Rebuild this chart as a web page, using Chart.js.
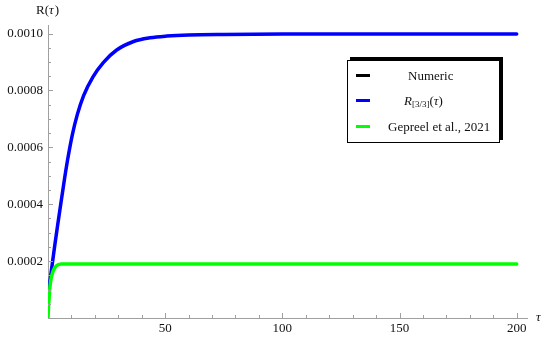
<!DOCTYPE html>
<html>
<head>
<meta charset="utf-8">
<script src="https://cdn.jsdelivr.net/npm/chart.js@4/dist/chart.umd.min.js"></script>
<style>
  html, body { margin: 0; padding: 0; background: #fff; }
  #wrap { position: relative; width: 550px; height: 340px; }
  #legend { position: absolute; left: 347px; top: 60px; width: 151px; height: 81px;
    border: 1px solid #000; background: #fff; box-shadow: 3px -3px 0 #000;
    font-family: "Liberation Serif", "Times New Roman", serif; font-size: 13px; color: #111; }
  .row { position: absolute; left: 0; width: 151px; height: 16px; }
  .sw { position: absolute; left: 8px; top: 6px; width: 14px; height: 3px; }
  .tx { position: absolute; top: 0; line-height: 16px; white-space: nowrap; }
  sub { font-size: 9px; vertical-align: -2px; font-style: normal; }
</style>
</head>
<body>
<div id="wrap">
  <canvas id="c" width="550" height="340"></canvas>
  <div id="legend">
    <div class="row" style="top:7px"><div class="sw" style="background:#000"></div><div class="tx" style="left:60px">Numeric</div></div>
    <div class="row" style="top:32px"><div class="sw" style="background:#0000ff"></div><div class="tx" style="left:56px"><i>R</i><sub>[3/3]</sub>(<i>τ</i>)</div></div>
    <div class="row" style="top:58px"><div class="sw" style="background:#00ff00"></div><div class="tx" style="left:40px">Gepreel et al., 2021</div></div>
  </div>
</div>
<script>
// ---- data ----
const tauPade  = [0, 1, 2, 3, 4, 5.7, 7.1, 8.7, 10.4, 12.5, 15.2, 19.2, 23.6, 29.3, 36.5, 43.6, 50.7, 60, 75, 100, 150, 200];
const padeR    = [0.00008, 0.00014, 0.000201, 0.000262, 0.00032, 0.000415, 0.000492, 0.000572, 0.000645, 0.000715, 0.000782, 0.000848, 0.000898, 0.000942, 0.000972, 0.000985, 0.000991, 0.000995, 0.000997, 0.000998, 0.000998, 0.000998];
const numericR = [0.00008, 0.00014, 0.000201, 0.000262, 0.00032, 0.000415, 0.000492, 0.000572, 0.000645, 0.000715, 0.000782, 0.000848, 0.000898, 0.000942, 0.000972, 0.000985, 0.000991, 0.000995, 0.000997, 0.000998, 0.000998, 0.000998];
const tauGep   = [0, 0.4, 1.0, 2.1, 3.5, 5.7, 8, 20, 50, 100, 150, 200];
const gepreelR = [0, 0.000063, 0.000122, 0.000163, 0.000183, 0.00019, 0.00019, 0.00019, 0.00019, 0.00019, 0.00019, 0.00019];
const xTickValues = [50, 100, 150, 200];
const yTickValues = [0.0002, 0.0004, 0.0006, 0.0008, 0.0010];
const xMinorStep = 10;
const yMinorStep = 0.00005;

const toXY = (xs, ys) => xs.map((x, i) => ({x: x, y: ys[i]}));
const serif = "'Liberation Serif', 'Times New Roman', serif";
const axisGray = '#a0a0a0';

const innerTicks = {
  id: 'innerTicks',
  afterDraw(chart) {
    const ctx = chart.ctx, xs = chart.scales.x, ys = chart.scales.y;
    const y0 = ys.getPixelForValue(0), x0 = xs.getPixelForValue(0);
    ctx.save();
    ctx.strokeStyle = axisGray; ctx.lineWidth = 1;
    ctx.beginPath();
    for (let v = xMinorStep; v <= xs.max; v += xMinorStep) {
      const px = Math.round(xs.getPixelForValue(v)) + 0.5;
      const len = (v % 50 === 0) ? 5 : 3;
      ctx.moveTo(px, y0); ctx.lineTo(px, y0 - len);
    }
    for (let k = 1; k * yMinorStep <= ys.max + 1e-12; k++) {
      const v = k * yMinorStep;
      const py = Math.round(ys.getPixelForValue(v)) + 0.5;
      const len = (k % 4 === 0) ? 5 : 3;
      ctx.moveTo(x0, py); ctx.lineTo(x0 + len, py);
    }
    ctx.stroke();
    ctx.fillStyle = '#111';
    ctx.font = "13px " + serif;
    ctx.textAlign = 'left'; ctx.textBaseline = 'middle';
    ctx.fillText('R(', 36, 11);
    let w = ctx.measureText('R(').width;
    ctx.font = "italic 13px " + serif;
    ctx.fillText('τ', 36 + w, 11);
    let w2 = ctx.measureText('τ').width;
    ctx.font = "13px " + serif;
    ctx.fillText(')', 36 + w + w2 + 1, 11);
    ctx.font = "italic 13px " + serif;
    ctx.fillText('τ', 536, y0);
    ctx.restore();
  }
};

new Chart(document.getElementById('c'), {
  type: 'line',
  data: {
    datasets: [
      { label: 'Gepreel et al., 2021', data: toXY(tauGep, gepreelR), borderColor: '#00ff00', borderWidth: 3.5, order: 0 },
      { label: 'R[3/3](τ)', data: toXY(tauPade, padeR), borderColor: '#0000ff', borderWidth: 3.5, order: 1 },
      { label: 'Numeric', data: toXY(tauPade, numericR), borderColor: '#000000', borderWidth: 2, order: 2 }
    ]
  },
  options: {
    responsive: false,
    animation: false,
    events: [],
    layout: { padding: { top: 25, right: 23, left: 0, bottom: 0 } },
    elements: { point: { radius: 0 }, line: { cubicInterpolationMode: 'monotone', borderCapStyle: 'round' } },
    plugins: { legend: { display: false }, tooltip: { enabled: false } },
    scales: {
      x: {
        type: 'linear', min: 0, max: 204.4,
        afterFit: s => { s.height = 22; },
        afterBuildTicks: s => { s.ticks = xTickValues.map(v => ({value: v})); },
        grid: { display: true, drawOnChartArea: false, drawTicks: false, color: 'rgba(0,0,0,0)' },
        border: { display: true, color: axisGray, width: 1 },
        ticks: { padding: 3, color: '#111', font: { family: serif, size: 13 }, maxRotation: 0, autoSkip: false,
                 callback: v => String(v) }
      },
      y: {
        type: 'linear', min: 0, max: 0.00103,
        afterFit: s => { s.width = 48; },
        afterBuildTicks: s => { s.ticks = yTickValues.map(v => ({value: v})); },
        grid: { display: true, drawOnChartArea: false, drawTicks: false, color: 'rgba(0,0,0,0)' },
        border: { display: true, color: axisGray, width: 1 },
        ticks: { padding: 5, color: '#111', font: { family: serif, size: 13 }, autoSkip: false,
                 callback: v => Number(v).toFixed(4) }
      }
    }
  },
  plugins: [innerTicks]
});
</script>
</body>
</html>
